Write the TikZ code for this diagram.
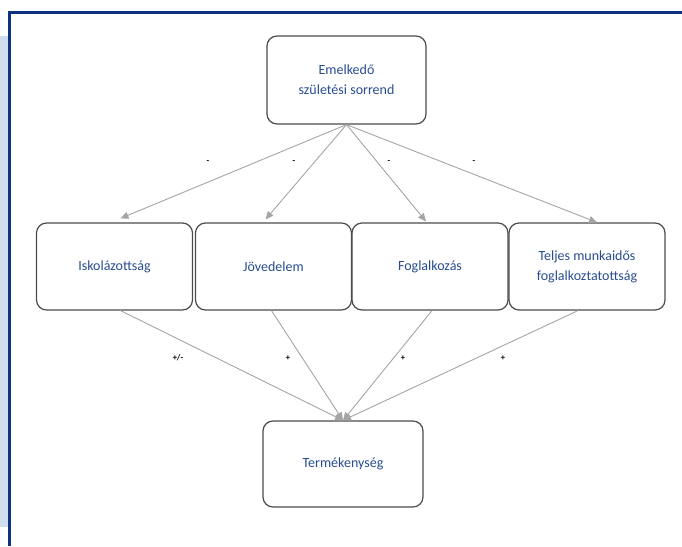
\documentclass[tikz,border=0pt]{standalone}
\usepackage{fontspec}
\setmainfont{Carlito}
\usetikzlibrary{arrows.meta,calc}

\definecolor{kshblue}{RGB}{12,50,130}
\definecolor{bandblue}{RGB}{208,221,239}
\definecolor{txtblue}{RGB}{40,76,145}
\definecolor{arrowgray}{RGB}{165,165,165}

\tikzset{
  factor/.style={draw=black!70, line width=1.2pt, rounded corners=10pt,
    align=center, text=txtblue, font=\fontsize{14}{20}\selectfont,
    minimum width=156pt, minimum height=87pt, inner sep=2pt},
  link/.style={draw=arrowgray, line width=0.9pt,
    -{Triangle[length=8pt,width=7pt]}},
  sign/.style={font=\fontsize{8.5}{9}\selectfont\bfseries, inner sep=1pt}
}

\begin{document}
\begin{tikzpicture}[x=1pt,y=-1pt]
    \useasboundingbox (0,0) rectangle (682,546);

    % Frame of the page
    \fill[bandblue] (0,36) rectangle (8,527);
    \draw[kshblue, line width=3pt] (682,12) -- (9.5,12) -- (9.5,546);

    % Boxes
    \node[factor, minimum width=159pt, minimum height=88pt] at (346.5,80) (birth) {Emelkedő\\születési sorrend};

    \node[factor] at (114.5,266.5) (school) {Iskolázottság};
    \node[factor] at (273.5,266.5) (income) {Jövedelem};
    \node[factor] at (430,266.5) (job) {Foglalkozás};
    \node[factor] at (587,266.5) (fulltime) {Teljes munkaidős\\foglalkoztatottság};

    \node[factor, minimum width=160pt, minimum height=86pt] at (343,464) (fertility) {Termékenység};

    % Arrows from birth order
    \draw[link] (birth.south) -- ($(school.north)+(6,-4)$);
    \draw[link] (birth.south) -- ($(income.north)+(-8,-3)$);
    \draw[link] (birth.south) -- ($(job.north)+(-4,-1)$);
    \draw[link] (birth.south) -- ($(fulltime.north)+(10,0)$);

    \node[sign] at (208,162) (s1) {-};
    \node[sign] at (294,162) (s2) {-};
    \node[sign] at (389,162) (s3) {-};
    \node[sign] at (474,162) (s4) {-};

    % Arrows to fertility
    \draw[link] ($(school.south)+(6,0)$) -- (fertility.north);
    \draw[link] ($(income.south)+(-2,0)$) -- (fertility.north);
    \draw[link] ($(job.south)+(2,0)$) -- (fertility.north);
    \draw[link] ($(fulltime.south)+(-9,0)$) -- (fertility.north);

    \node[sign] at (178,358) (p1) {+/-};
    \node[sign] at (288,358) (p2) {+};
    \node[sign] at (403,358) (p3) {+};
    \node[sign] at (503,358) (p4) {+};
\end{tikzpicture}
\end{document}
